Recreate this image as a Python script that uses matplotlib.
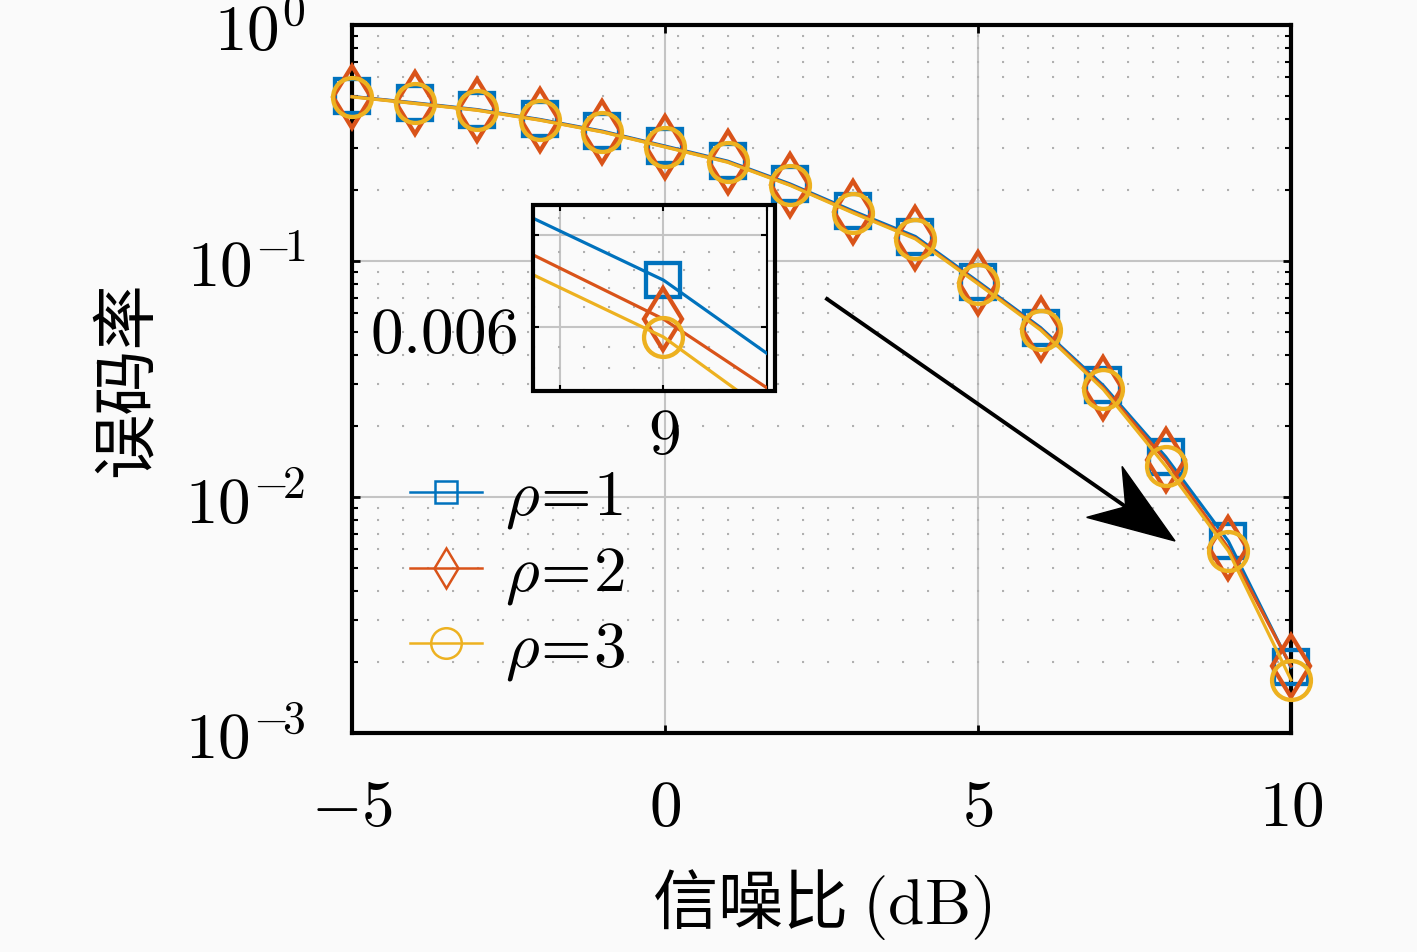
import matplotlib
matplotlib.use('Agg')
import matplotlib.pyplot as plt
import numpy as np
from matplotlib.ticker import LogLocator, NullFormatter, FixedLocator, NullLocator
from matplotlib.patches import Polygon, Rectangle
from matplotlib.lines import Line2D

plt.rcParams['font.family'] = ['Noto Sans CJK SC', 'DejaVu Sans']
plt.rcParams['mathtext.fontset'] = 'cm'

# ---------------- data ----------------
snr_db = [-5, -4, -3, -2, -1, 0, 1, 2, 3, 4, 5, 6, 7, 8, 9, 10]
ber_rho1 = [0.498, 0.468, 0.438, 0.398, 0.355, 0.307, 0.265, 0.212, 0.163, 0.127,
            0.0818, 0.0522, 0.0297, 0.01478, 0.00649, 0.00190]
ber_rho2 = [0.497, 0.466, 0.436, 0.396, 0.353, 0.305, 0.263, 0.210, 0.161, 0.125,
            0.0807, 0.0515, 0.0291, 0.01428, 0.00608, 0.00192]
ber_rho3 = [0.496, 0.465, 0.435, 0.395, 0.352, 0.304, 0.262, 0.209, 0.160, 0.124,
            0.0800, 0.0510, 0.0286, 0.01350, 0.00590, 0.00168]
series_labels = [r'$\rho\!=\!1$', r'$\rho\!=\!2$', r'$\rho\!=\!3$']
series_colors = ['#0072BD', '#D95319', '#EDB120']
series_markers = ['s', 'd', 'o']

x_ticks = [-5, 0, 5, 10]
x_tick_labels = [r'$-5$', r'$0$', r'$5$', r'$10$']
y_ticks = [1e-3, 1e-2, 1e-1, 1e0]
y_tick_labels = [r'$10^{-\!3}$', r'$10^{-\!2}$', r'$10^{-\!1}$', r'$10^{0}$']
inset_x_ticks = [8.9, 9.0, 9.1]
inset_x_tick_labels = ['', r'$9$', '']
inset_y_ticks = [0.006, 0.007]
inset_y_tick_labels = [r'$0.006$', '']
inset_y_minor = [0.0054, 0.0056, 0.0058, 0.0062, 0.0064, 0.0066, 0.0068, 0.0072]
xlabel_text = '信噪比 $(\\mathrm{dB})$'
ylabel_text = '误码率'

# ---------------- figure ----------------
W, H = 1417, 952
bg = '#fafafa'
fig = plt.figure(figsize=(W / 100, H / 100), dpi=100, facecolor=bg)
ax = fig.add_axes([352 / W, 1 - 733 / H, (1291 - 352) / W, (733 - 25) / H], facecolor=bg)

FS = 47
series = [ber_rho1, ber_rho2, ber_rho3]
ms_main = [25, 32, 28]
LW, MEW = 2.3, 3.1
lines = []
for vals, col, mk, ms, lab in zip(series, series_colors, series_markers, ms_main, series_labels):
    ln, = ax.plot(snr_db, vals, color=col, marker=mk, ms=ms, mfc='none', mew=MEW,
                  lw=LW, label=lab, zorder=3, clip_on=False)
    lines.append(ln)

ax.set_yscale('log')
ax.set_xlim(-5, 10)
ax.set_ylim(1e-3, 1e0)
ax.set_xticks(x_ticks, labels=x_tick_labels)
ax.set_yticks(y_ticks, labels=y_tick_labels)
ax.yaxis.set_minor_locator(LogLocator(base=10, subs=np.arange(2, 10)))
ax.yaxis.set_minor_formatter(NullFormatter())
ax.xaxis.set_minor_locator(NullLocator())

ax.grid(which='major', color='#c4c4c4', lw=1.5, zorder=0)
ax.grid(which='minor', axis='y', color='#b0b0b0', lw=1.5, linestyle=(0, (1, 11)), zorder=0)
ax.set_axisbelow(True)

ax.tick_params(which='both', direction='in', top=True, right=True, labelsize=FS, colors='k')
ax.tick_params(which='major', length=6, width=2, pad=30)
ax.tick_params(which='minor', length=4, width=1.5)
ax.tick_params(axis='y', which='major', pad=34)
for sp in ax.spines.values():
    sp.set_linewidth(3)
    sp.set_color('k')

ax.set_xlabel(xlabel_text, fontsize=FS)
ax.set_ylabel(ylabel_text, fontsize=FS)
ax.xaxis.set_label_coords(0.5, (733 - 905) / 708)
ax.xaxis.label.set_va('center')
ax.yaxis.set_label_coords((128 - 352) / 939, 0.5)
ax.yaxis.label.set_va('center')

# legend
leg = ax.legend(loc='center left', bbox_to_anchor=(410 / W, 1 - 573 / H),
                bbox_transform=fig.transFigure, frameon=False, fontsize=FS,
                handlelength=1.1, handletextpad=0.35, labelspacing=0.12,
                borderpad=0, borderaxespad=0)
for h, ms in zip(leg.legend_handles, [16, 20, 22]):
    h.set_markersize(ms)
    h.set_linewidth(1.8)
    h.set_markeredgewidth(1.8)

# inset
iax = fig.add_axes([533 / W, 1 - 391 / H, (767 - 533) / W, (391 - 205) / H], facecolor=bg)
for vals, col, mk, ms in zip(series, series_colors, series_markers, ms_main):
    iax.plot(snr_db, vals, color=col, marker=mk, ms=ms, mfc='none', mew=MEW, lw=LW, zorder=3)
iax.set_yscale('log')
iax.set_xlim(8.874, 9.097)
iax.set_ylim(0.00539, 0.00736)
iax.set_xticks(inset_x_ticks, labels=inset_x_tick_labels)
iax.set_yticks(inset_y_ticks, labels=inset_y_tick_labels)
iax.yaxis.set_minor_locator(FixedLocator(inset_y_minor))
iax.yaxis.set_minor_formatter(NullFormatter())
iax.xaxis.set_minor_locator(NullLocator())
iax.grid(which='major', color='#c4c4c4', lw=1.5, zorder=0)
iax.grid(which='minor', axis='y', color='#b0b0b0', lw=1.5, linestyle=(0, (1, 11)), zorder=0)
iax.set_axisbelow(True)
iax.tick_params(which='both', direction='in', top=True, right=True, labelsize=FS)
iax.tick_params(which='major', length=4, width=1.5)
iax.tick_params(which='minor', length=0)
iax.tick_params(axis='y', pad=11)
iax.tick_params(axis='x', pad=8)
for sp in iax.spines.values():
    sp.set_linewidth(1.5)
fig.add_artist(Rectangle((533 / W, 1 - 391 / H), (775 - 533) / W, (391 - 205) / H,
                         fill=False, ec='k', lw=3, transform=fig.transFigure, zorder=10))

# arrow
S = np.array([827.0, 299.0])
T = np.array([1175.0, 541.0])
u = (T - S) / np.linalg.norm(T - S)
n = np.array([-u[1], u[0]])
L, hw, notch = 86, 31, 60
N = T - notch * u
head = [T, T - L * u + hw * n, N, T - L * u - hw * n]
fig.add_artist(Line2D([S[0] / W, N[0] / W], [1 - S[1] / H, 1 - N[1] / H], color='k', lw=2.8,
                      transform=fig.transFigure, zorder=11))
fig.add_artist(Polygon([(p[0] / W, 1 - p[1] / H) for p in head], closed=True, fc='k', ec='k',
                       lw=1, transform=fig.transFigure, zorder=11))

fig.savefig('out.png', dpi=100, facecolor=bg)
